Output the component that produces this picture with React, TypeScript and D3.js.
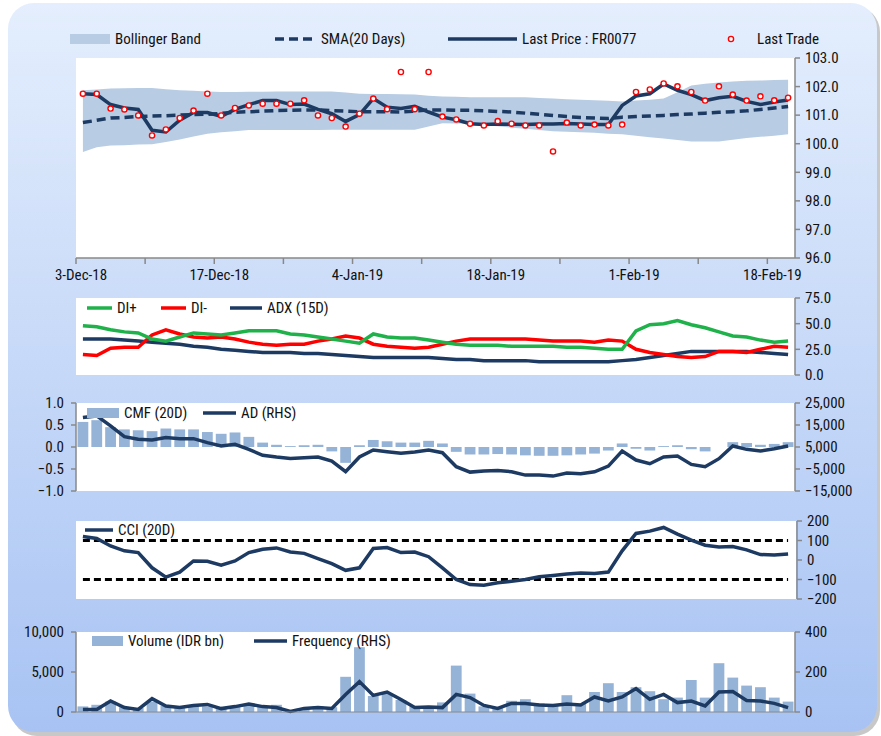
import React from "react";
import * as d3 from "d3";

const N = 52;
const tickLabels = [
  { i: 0, t: "3-Dec-18" }, { i: 10, t: "17-Dec-18" }, { i: 20, t: "4-Jan-19" },
  { i: 30, t: "18-Jan-19" }, { i: 40, t: "1-Feb-19" }, { i: 50, t: "18-Feb-19" },
];
const lastPrice = [101.75,101.72,101.37,101.25,101.20,100.47,100.41,100.82,101.09,101.09,100.96,101.20,101.37,101.51,101.51,101.37,101.39,101.20,101.05,100.78,101.02,101.58,101.28,101.23,101.31,101.11,100.93,100.84,100.70,100.67,100.69,100.68,100.67,100.69,100.69,100.71,100.69,100.67,100.67,101.34,101.67,101.75,102.09,101.87,101.72,101.51,101.61,101.66,101.48,101.37,101.46,101.53];
const lastTrade = [101.75,101.75,101.23,101.20,100.99,100.29,100.50,100.90,101.16,101.75,100.99,101.25,101.34,101.40,101.40,101.40,101.52,100.99,100.90,100.60,101.05,101.58,101.21,102.51,101.21,102.51,100.95,100.85,100.70,100.64,100.79,100.70,100.64,100.64,99.73,100.74,100.64,100.67,100.64,100.67,101.81,101.90,102.11,102.01,101.81,101.51,102.01,101.72,101.51,101.66,101.52,101.61];
const sma = [100.74,100.82,100.90,100.92,100.95,100.97,100.98,101.0,101.02,101.03,101.06,101.10,101.12,101.14,101.16,101.17,101.18,101.18,101.16,101.14,101.12,101.12,101.12,101.11,101.14,101.18,101.18,101.17,101.17,101.15,101.13,101.11,101.07,101.03,100.99,100.95,100.92,100.90,100.88,100.93,100.95,100.97,100.99,101.02,101.04,101.07,101.10,101.12,101.15,101.20,101.25,101.30];
const bandUpper = [101.87,101.90,101.93,101.94,101.95,101.95,101.91,101.87,101.85,101.83,101.81,101.81,101.82,101.82,101.83,101.83,101.83,101.83,101.83,101.79,101.75,101.74,101.74,101.73,101.72,101.68,101.65,101.64,101.63,101.63,101.63,101.63,101.63,101.60,101.58,101.56,101.54,101.52,101.50,101.48,101.51,101.54,101.58,101.80,102.04,102.10,102.14,102.18,102.20,102.21,102.23,102.24];
const bandLower = [99.71,99.88,99.94,99.95,99.97,99.98,100.06,100.15,100.25,100.35,100.40,100.44,100.48,100.48,100.48,100.48,100.48,100.48,100.49,100.49,100.49,100.49,100.49,100.49,100.49,100.60,100.72,100.71,100.70,100.65,100.61,100.56,100.52,100.48,100.44,100.42,100.40,100.38,100.35,100.33,100.28,100.23,100.18,100.13,100.08,100.08,100.08,100.14,100.20,100.24,100.28,100.33];
const diPlus = [48,47,44,42,41,35,33,37,41,40,39,41,43,43,43,40,39,37,35,33,31,40,37,36,36,34,32,30,29,29,29,28,28,28,28,27,27,26,25,25,43,49,50,53,49,46,42,38,37,34,32,33];
const diMinus = [20,19,26,27,27,39,44,40,37,36,37,35,32,30,29,30,30,33,35,38,36,30,28,27,26,27,30,33,35,35,35,35,35,34,33,33,33,32,34,33,25,22,20,18,17,18,23,23,22,25,28,27];
const adx = [35,35,35,34,33,32,31,30,28,27,25,24,23,22,22,22,21,21,20,19,18,17,17,17,17,17,16,15,15,14,14,14,14,13,13,13,13,13,13,14,15,17,19,21,23,23,23,23,23,22,21,20];
const cmf = [0.57,0.61,0.45,0.40,0.38,0.36,0.42,0.40,0.40,0.34,0.30,0.33,0.23,0.10,0.05,0.02,0.04,0.05,-0.10,-0.36,0.04,0.16,0.13,0.10,0.10,0.14,0.08,-0.11,-0.17,-0.17,-0.16,-0.17,-0.19,-0.20,-0.20,-0.19,-0.17,-0.15,-0.08,0.08,-0.04,-0.08,0.02,0.04,-0.05,-0.10,0.0,0.11,0.09,0.05,0.07,0.11];
const ad = [18380,19140,14580,9710,8500,8190,9260,8800,8800,6980,5460,6220,3940,1200,440,-170,130,440,-1390,-6250,440,3630,2870,2110,2720,3630,2410,-3970,-6410,-5950,-5650,-6250,-7780,-7780,-8230,-6860,-7170,-6250,-3670,3170,-930,-2600,440,890,-2910,-3970,-320,5460,3940,3170,4240,5460];
const cci = [121,110,72,47,38,-40,-88,-62,-5,-7,-26,-5,38,55,62,41,34,7,-19,-53,-40,59,64,38,41,17,-40,-100,-126,-129,-117,-109,-100,-86,-79,-72,-67,-69,-62,47,136,148,167,133,102,76,67,69,52,28,26,31];
const volume = [700,900,1300,600,500,1300,800,500,800,700,600,700,800,700,900,200,500,700,600,4400,8100,2000,2300,1500,700,500,1200,5800,2300,700,500,1400,1600,1100,1000,2100,1000,2500,3600,2500,3100,2600,1600,1800,4000,1800,6100,4300,3300,3100,1800,1300];
const frequency = [13,13,55,22,13,67,30,22,33,38,17,27,40,27,22,3,18,23,18,88,152,83,100,63,22,25,22,88,72,33,18,43,42,35,33,40,35,75,55,75,117,63,88,47,55,30,100,102,58,55,43,22];

const NAVY = "#1d3a62";
const FONT = "'Liberation Sans Narrow', 'Roboto Condensed', 'Liberation Sans', sans-serif";
const X0 = 76, X1 = 795;
const idx = d3.range(N);
const x = d3.scaleBand<number>().domain(idx).range([X0, X1]).paddingInner(0.22).paddingOuter(0.11);
const cx = (i: number) => (x(i) as number) + x.bandwidth() / 2;
const step = (X1 - X0) / N;
const fmt1 = d3.format(".1f");
const fmtC = d3.format(",");

function RightAxis({ y, ticks, f, x0 = X1 }: any) {
  const [a, b] = y.range();
  return (
    <g>
      <line x1={x0} x2={x0} y1={a} y2={b} stroke="#888" strokeWidth={1.5} />
      {ticks.map((t: number) => (
        <g key={t}>
          <line x1={x0} x2={x0 + 5} y1={y(t)} y2={y(t)} stroke="#888" strokeWidth={1.5} />
          <text x={x0 + 10} y={y(t)} dy="0.35em" fontSize={15} fontFamily={FONT} fill="#111">{f(t)}</text>
        </g>
      ))}
    </g>
  );
}
function LeftAxis({ y, ticks, f }: any) {
  const [a, b] = y.range();
  return (
    <g>
      <line x1={X0} x2={X0} y1={a} y2={b} stroke="#888" strokeWidth={1.5} />
      {ticks.map((t: number) => (
        <g key={t}>
          <line x1={X0 - 5} x2={X0} y1={y(t)} y2={y(t)} stroke="#888" strokeWidth={1.5} />
          <text x={X0 - 12} y={y(t)} dy="0.35em" textAnchor="end" fontSize={15} fontFamily={FONT} fill="#111">{f(t)}</text>
        </g>
      ))}
    </g>
  );
}
const lineOf = (vals: number[], y: any) =>
  d3.line<number>().x((_, i) => cx(i)).y((v) => y(v))(vals) as string;

function LegLine({ x1, x2, y, color, dash, text }: any) {
  return (
    <g>
      <line x1={x1} x2={x2} y1={y} y2={y} stroke={color} strokeWidth={3.5} strokeDasharray={dash} />
      <text x={x2 + 5} y={y} dy="0.35em" fontSize={15} fontFamily={FONT} fill="#111">{text}</text>
    </g>
  );
}
function LegBar({ x1, x2, y, color, text }: any) {
  return (
    <g>
      <rect x={x1} y={y - 5} width={x2 - x1} height={10} fill={color} />
      <text x={x2 + 5} y={y} dy="0.35em" fontSize={15} fontFamily={FONT} fill="#111">{text}</text>
    </g>
  );
}

export default function App() {
  const y1 = d3.scaleLinear().domain([96, 103]).range([258, 58]);
  const y2 = d3.scaleLinear().domain([0, 75]).range([375, 298]);
  const y3 = d3.scaleLinear().domain([-1, 1]).range([491, 403]);
  const y3r = d3.scaleLinear().domain([-15000, 25000]).range([491, 403]);
  const y4 = d3.scaleLinear().domain([-200, 200]).range([599, 521]);
  const y5 = d3.scaleLinear().domain([0, 10000]).range([712, 632]);
  const y5r = d3.scaleLinear().domain([0, 400]).range([712, 632]);
  const band = d3.area<number>().x((_, i) => cx(i)).y0((_, i) => y1(bandLower[i])).y1((v) => y1(v))(bandUpper) as string;

  return (
    <svg width={881} height={736} style={{ position: "absolute", left: 0, top: 0 }}>
      <defs>
        <linearGradient id="bg" x1="0" y1="0" x2="0" y2="1">
          <stop offset="0" stopColor="#e4eefd" />
          <stop offset="1" stopColor="#a8c3f3" />
        </linearGradient>
      </defs>
      <rect x={0} y={0} width={881} height={736} fill="#fff" />
      <rect x={11} y={6} width={869} height={730} rx={26} fill="#c8c8c8" />
      <rect x={8} y={3} width={869} height={729} rx={26} fill="url(#bg)" />

      {/* Panel 1 */}
      <rect x={X0} y={58} width={X1 - X0} height={200} fill="#fff" />
      <path d={band} fill="#b8cce4" />
      <path d={lineOf(sma, y1)} fill="none" stroke={NAVY} strokeWidth={3.5} strokeDasharray="9,5" />
      <path d={lineOf(lastPrice, y1)} fill="none" stroke={NAVY} strokeWidth={3.5} />
      {lastTrade.map((v, i) => (
        <circle key={i} cx={cx(i)} cy={y1(v)} r={2.6} fill="#fff" stroke="#ff0000" strokeWidth={1.4} />
      ))}
      <RightAxis y={y1} ticks={d3.range(96, 103.01, 1)} f={fmt1} />
      <line x1={X0} x2={X1} y1={258} y2={258} stroke="#888" strokeWidth={1.5} />
      {d3.range(0, N + 1, 5).map((i) => (
        <line key={i} x1={X0 + i * step} x2={X0 + i * step} y1={258} y2={264} stroke="#888" strokeWidth={1.5} />
      ))}
      {tickLabels.map((t) => (
        <text key={t.i} x={X0 + t.i * step + 5} y={275} dy="0.35em" textAnchor="middle" fontSize={15} fontFamily={FONT} fill="#111">{t.t}</text>
      ))}
      <LegBar x1={70} x2={110} y={39} color="#b8cce4" text="Bollinger Band" />
      <LegLine x1={275} x2={316} y={39} color={NAVY} dash="9,5" text="SMA(20 Days)" />
      <LegLine x1={448} x2={517} y={39} color={NAVY} text="Last Price : FR0077" />
      <circle cx={731} cy={39} r={2.6} fill="#fff" stroke="#ff0000" strokeWidth={1.4} />
      <text x={757} y={39} dy="0.35em" fontSize={15} fontFamily={FONT} fill="#111">Last Trade</text>

      {/* Panel 2 */}
      <rect x={X0} y={298} width={X1 - X0} height={77} fill="#fff" />
      <path d={lineOf(adx, y2)} fill="none" stroke={NAVY} strokeWidth={3.5} />
      <path d={lineOf(diMinus, y2)} fill="none" stroke="#ff0000" strokeWidth={3.5} />
      <path d={lineOf(diPlus, y2)} fill="none" stroke="#1fb14a" strokeWidth={3.5} />
      <RightAxis y={y2} ticks={[0, 25, 50, 75]} f={fmt1} />
      <LegLine x1={87} x2={112} y={308} color="#1fb14a" text="DI+" />
      <LegLine x1={161} x2={186} y={308} color="#ff0000" text="DI-" />
      <LegLine x1={230} x2={262} y={308} color={NAVY} text="ADX (15D)" />

      {/* Panel 3 */}
      <rect x={X0} y={403} width={X1 - X0} height={88} fill="#fff" />
      {cmf.map((v, i) => (
        <rect key={i} x={x(i)} width={x.bandwidth()} y={Math.min(y3(v), y3(0))} height={Math.abs(y3(v) - y3(0))} fill="#95b3d7" />
      ))}
      <path d={lineOf(ad, y3r)} fill="none" stroke={NAVY} strokeWidth={3.5} />
      <LeftAxis y={y3} ticks={[-1, -0.5, 0, 0.5, 1]} f={fmt1} />
      <RightAxis y={y3r} ticks={[-15000, -5000, 5000, 15000, 25000]} f={fmtC} />
      <LegBar x1={87} x2={119} y={413} color="#95b3d7" text="CMF (20D)" />
      <LegLine x1={203} x2={236} y={413} color={NAVY} text="AD (RHS)" />

      {/* Panel 4 */}
      <rect x={X0} y={521} width={X1 - X0 + 1} height={78} fill="#fff" />
      {[100, -100].map((t) => (
        <line key={t} x1={cx(0)} x2={cx(N - 1)} y1={y4(t)} y2={y4(t)} stroke="#000" strokeWidth={3} strokeDasharray="7,4" />
      ))}
      <path d={lineOf(cci, y4)} fill="none" stroke={NAVY} strokeWidth={3.5} />
      <RightAxis y={y4} ticks={[-200, -100, 0, 100, 200]} f={d3.format("d")} x0={797} />
      <LegLine x1={85} x2={113} y={530} color={NAVY} text="CCI (20D)" />

      {/* Panel 5 */}
      <rect x={X0} y={632} width={X1 - X0} height={80} fill="#fff" />
      {volume.map((v, i) => (
        <rect key={i} x={x(i)} width={x.bandwidth()} y={y5(v)} height={y5(0) - y5(v)} fill="#95b3d7" />
      ))}
      <path d={lineOf(frequency, y5r)} fill="none" stroke={NAVY} strokeWidth={3.5} />
      <LeftAxis y={y5} ticks={[0, 5000, 10000]} f={fmtC} />
      <RightAxis y={y5r} ticks={[0, 200, 400]} f={d3.format("d")} />
      <line x1={X0} x2={X1} y1={712} y2={712} stroke="#888" strokeWidth={1} />
      <LegBar x1={92} x2={123} y={641} color="#95b3d7" text="Volume (IDR bn)" />
      <LegLine x1={254} x2={287} y={641} color={NAVY} text="Frequency (RHS)" />
    </svg>
  );
}
